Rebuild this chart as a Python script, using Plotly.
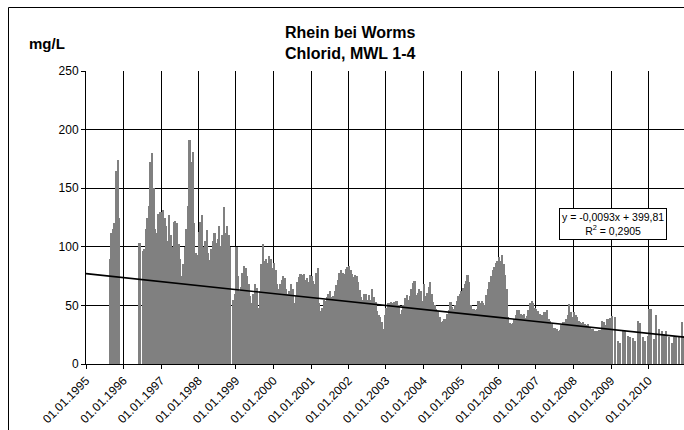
import plotly.graph_objects as go
from datetime import date

# ---- Data (semi-monthly values, mg/L; None = no data) ----
v1995 = [None, None, None, None, None, None, None, None, None, None, None, None,
         None, None, None, 90, 112, 115, 120, 165, 174, 125, None, None]
v1996 = [None, None, None, None, None, None, None, None, None, None, 103, None,
         96, 98, 115, 125, 135, 172, 180, 150, 115, 112, 128, 130]
v1997 = [130, 131, 125, 118, 105, 127, 110, 100, 121, 122, 120, 102,
         90, 75, 85, 100, 115, 135, 191, 172, 181, 120, 95, 93]
v1998 = [113, 121, 127, 100, 105, 114, 95, 89, 98, 105, 112, 103,
         107, 118, 101, 110, 134, 112, 118, 110, 100, None, 55, 60]
v1999 = [100, 75, 62, 66, 78, 84, 82, 75, 68, 58, 52, 60,
         68, 65, 48, 62, 85, 102, 88, 90, 86, 92, 90, 82]
v2000 = [86, 80, 68, 64, 68, 72, 75, 73, 64, 60, 62, 68,
         64, 52, 58, 70, 74, 77, 76, 77, 72, 73, 70, 76]
v2001 = [75, 71, 68, 78, 82, 52, 45, 48, 55, 54, 57, 60,
         62, 57, 58, 62, 67, 72, 78, 80, 78, 77, 81, 83]
v2002 = [84, 80, 77, 74, 76, 75, 70, 63, 57, 55, 60, 60,
         55, 59, 55, 64, 57, 53, 45, 42, 40, 36, 30, 42]
v2003 = [48, 52, 52, 53, 52, 53, 54, 54, 50, 43, 46, 50,
         56, 59, 55, 58, 64, 69, 71, 59, 61, 64, 62, 54]
v2004 = [68, 58, 61, 66, 70, 60, 53, 50, 47, 45, 40, 36,
         37, 38, 38, 43, 46, 53, 49, 47, 50, 54, 58, 60]
v2005 = [62, 65, 68, 71, 76, 70, 50, 47, 47, 46, 47, 54,
         52, 54, 52, 50, 59, 64, 70, 75, 80, 83, 86, 88]
v2006 = [91, 88, 93, 85, 76, 64, 40, 35, 34, 35, 38, 42,
         46, 46, 43, 42, 43, 39, 41, 46, 52, 54, 52, 48]
v2007 = [47, 45, 43, 41, 42, 44, 44, 46, 38, 37, 34, 31,
         31, 30, 28, 29, 33, 36, 36, 38, 42, 51, 44, 40]
v2008 = [44, 42, 40, 37, 36, 35, 36, 34, 33, 34, 32, 30,
         30, 28, 28, 28, 29, 29, 37, 36, 33, 38, 38, 39]

dense_years = [1995, 1996, 1997, 1998, 1999, 2000, 2001, 2002,
               2003, 2004, 2005, 2006, 2007, 2008]
dense_values = [v1995, v1996, v1997, v1998, v1999, v2000, v2001, v2002,
                v2003, v2004, v2005, v2006, v2007, v2008]

# sparse single samples 2009-2010
sparse_dates = ["2009-01-16", "2009-02-12", "2009-03-08", "2009-04-02", "2009-04-25",
                "2009-05-18", "2009-06-12", "2009-07-07", "2009-07-30", "2009-08-25",
                "2009-09-24", "2009-10-13", "2009-11-05", "2009-11-30", "2009-12-24",
                "2010-01-09", "2010-01-28", "2010-02-26", "2010-03-20", "2010-04-16",
                "2010-05-12", "2010-06-03", "2010-06-25", "2010-07-22", "2010-08-17",
                "2010-09-09", "2010-10-01", "2010-10-27", "2010-11-22", "2010-12-15"]
sparse_values = [41, 40, 20, 18, 28, 28, 24, 23, 22, 20,
                 37, 35, 23, 20, 24, 47, 47, 21, 42, 30,
                 28, 26, 28, 23, 18, 23, 24, 24, 36, 24]

# linear trend as printed on the chart (x = Excel date serial)
trend_slope = -0.0093
trend_intercept = 399.81
trend_dates = [date(1995, 1, 1), date(2010, 12, 31)]

y_ticks = [0, 50, 100, 150, 200, 250]

# ---- Build ----
dense_x, dense_y = [], []
for yr, vals in zip(dense_years, dense_values):
    for k, v in enumerate(vals):
        if v is None:
            continue
        d = date(yr, k // 2 + 1, 8 if k % 2 == 0 else 23)
        dense_x.append(d.isoformat())
        dense_y.append(v)

excel0 = date(1899, 12, 30)
trend_y = [trend_slope * (d - excel0).days + trend_intercept for d in trend_dates]

DAY = 86400000
fig = go.Figure()
fig.add_trace(go.Bar(x=dense_x, y=dense_y, width=15.8 * DAY,
                     marker=dict(color="#808080", line=dict(width=0)),
                     showlegend=False, hoverinfo="x+y"))
fig.add_trace(go.Bar(x=sparse_dates, y=sparse_values, width=11 * DAY,
                     marker=dict(color="#808080", line=dict(width=0)),
                     showlegend=False, hoverinfo="x+y"))
fig.add_trace(go.Scatter(x=[d.isoformat() for d in trend_dates], y=trend_y,
                         mode="lines", line=dict(color="black", width=1.6),
                         showlegend=False, hoverinfo="skip"))

FONT = "Liberation Sans, Arial, sans-serif"
L, R, T, B = 86, 0, 71, 66
W, H = 684, 430
pw, ph = W - L - R, H - T - B

def px_x(p):
    return (p - L) / pw

def px_y(p):
    return (H - B - p) / ph

fig.update_layout(
    width=W, height=H, template="none",
    margin=dict(l=L, r=R, t=T, b=B, pad=0),
    paper_bgcolor="white", plot_bgcolor="white",
    bargap=0, barmode="overlay",
    font=dict(family=FONT, color="black", size=12),
    xaxis=dict(type="date", range=["1995-01-01", "2010-12-13"],
               tick0="1995-01-01", dtick="M12", tickformat="%d.%m.%Y",
               tickangle=-45, tickfont=dict(size=12, family=FONT),
               showgrid=True, gridcolor="black", gridwidth=1,
               showline=True, linecolor="black", linewidth=1,
               ticks="outside", ticklen=4, tickcolor="black",
               zeroline=False, automargin=False, fixedrange=True),
    yaxis=dict(range=[0, 250], tickvals=y_ticks,
               tickfont=dict(size=12, family=FONT),
               showgrid=True, gridcolor="black", gridwidth=1,
               showline=True, linecolor="black", linewidth=1,
               ticks="outside", ticklen=4, tickcolor="black",
               zeroline=False, automargin=False, fixedrange=True),
    annotations=[
        dict(text="<b>Rhein bei Worms</b><br><b>Chlorid, MWL 1-4</b>",
             xref="paper", yref="paper", x=px_x(350), y=px_y(43),
             xanchor="center", yanchor="middle", showarrow=False,
             font=dict(size=16, family=FONT)),
        dict(text="<b>mg/L</b>", xref="paper", yref="paper",
             x=px_x(27), y=px_y(44), xanchor="left", yanchor="middle",
             showarrow=False, font=dict(size=15, family=FONT)),
        dict(text="y = -0,0093x + 399,81<br>R<sup>2</sup> = 0,2905",
             xref="paper", yref="paper", x=px_x(613), y=px_y(224),
             xanchor="center", yanchor="middle", showarrow=False,
             align="center", bgcolor="white", bordercolor="black",
             borderwidth=1, borderpad=2, font=dict(size=10.5, family=FONT)),
    ],
    shapes=[
        dict(type="line", xref="paper", yref="paper",
             x0=px_x(8.5), x1=px_x(8.5), y0=px_y(7.5), y1=px_y(432),
             line=dict(color="black", width=1)),
        dict(type="line", xref="paper", yref="paper",
             x0=px_x(8.5), x1=px_x(690), y0=px_y(7.5), y1=px_y(7.5),
             line=dict(color="black", width=1)),
    ],
)

fig.write_html("out.html", config={"displayModeBar": False},
               post_script="document.body.style.margin='0';"
                           "document.body.style.overflow='hidden';")
